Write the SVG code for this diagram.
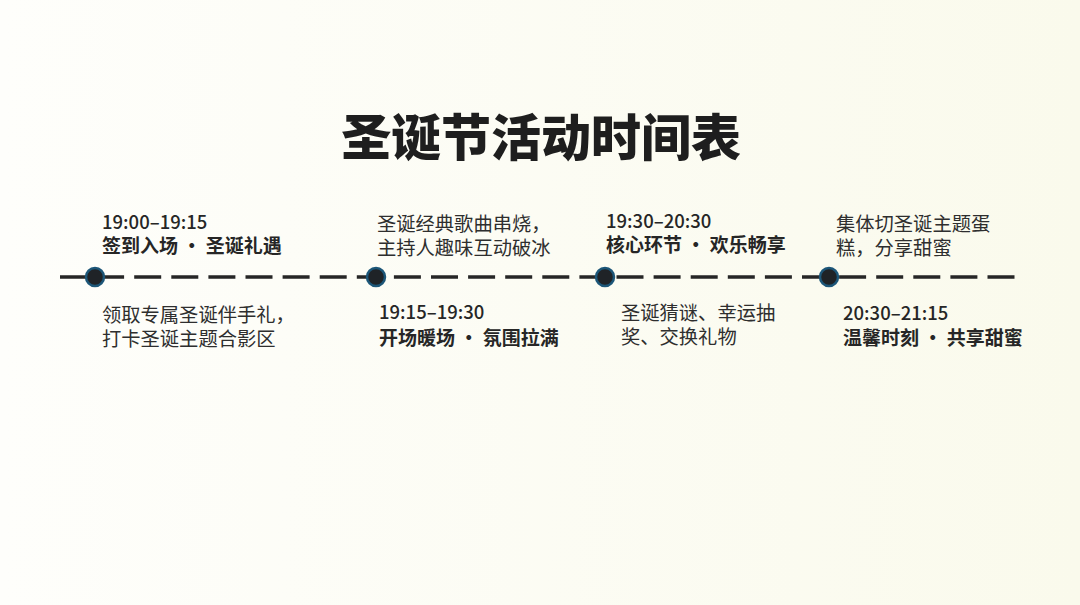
<svg xmlns="http://www.w3.org/2000/svg" width="1080" height="605" viewBox="0 0 1080 605">
  <defs>
    <linearGradient id="bg" x1="0" y1="0" x2="1" y2="0">
      <stop offset="0" stop-color="#fefefb"/>
      <stop offset="1" stop-color="#fafaec"/>
    </linearGradient>
  </defs>
  <style>
    .t { font-family: "Noto Sans CJK SC", "Inter", sans-serif; fill: #262626; }
    .time { font-size: 18.5px; font-weight: 500; }
    .head { font-size: 19px; font-weight: 700; }
    .desc { font-size: 19.3px; font-weight: 400; fill: #2e2e2e; }
    .title { font-family: "Noto Sans CJK SC", sans-serif; font-size: 50px; font-weight: 900; fill: #1e1e1e; }
    .dot { fill: #1f2327; stroke: #1c5678; stroke-width: 2.5; }
    .line { stroke: #262626; stroke-width: 3.5; fill: none; stroke-dasharray: 27 10.1; }
  </style>
  <rect width="1080" height="605" fill="url(#bg)"/>
  <text class="title" x="541" y="156" text-anchor="middle">圣诞节活动时间表</text>

  <g id="connectors">
    <line class="line" x1="60" y1="277" x2="1015" y2="277"/>
  </g>

  <g id="node1">
    <circle class="dot" cx="95" cy="277" r="9"/>
    <text class="t"><tspan class="time" x="102" y="229">19:00–19:15</tspan><tspan class="head" x="102" y="253">签到入场 · 圣诞礼遇</tspan></text>
    <text class="t desc"><tspan x="102" y="321.5">领取专属圣诞伴手礼，</tspan><tspan x="102" y="345.5">打卡圣诞主题合影区</tspan></text>
  </g>

  <g id="node2">
    <circle class="dot" cx="376" cy="277" r="9"/>
    <text class="t desc"><tspan x="377" y="230.5">圣诞经典歌曲串烧，</tspan><tspan x="377" y="254.5">主持人趣味互动破冰</tspan></text>
    <text class="t"><tspan class="time" x="379" y="319">19:15–19:30</tspan><tspan class="head" x="379" y="345">开场暖场 · 氛围拉满</tspan></text>
  </g>

  <g id="node3">
    <circle class="dot" cx="605" cy="277" r="9"/>
    <text class="t"><tspan class="time" x="606" y="228">19:30–20:30</tspan><tspan class="head" x="606" y="252">核心环节 · 欢乐畅享</tspan></text>
    <text class="t desc"><tspan x="621" y="319.5">圣诞猜谜、幸运抽</tspan><tspan x="621" y="343.5">奖、交换礼物</tspan></text>
  </g>

  <g id="node4">
    <circle class="dot" cx="829" cy="277" r="9"/>
    <text class="t desc"><tspan x="836" y="230.5">集体切圣诞主题蛋</tspan><tspan x="836" y="254.5">糕，分享甜蜜</tspan></text>
    <text class="t"><tspan class="time" x="843" y="320">20:30–21:15</tspan><tspan class="head" x="843" y="345">温馨时刻 · 共享甜蜜</tspan></text>
  </g>
</svg>
